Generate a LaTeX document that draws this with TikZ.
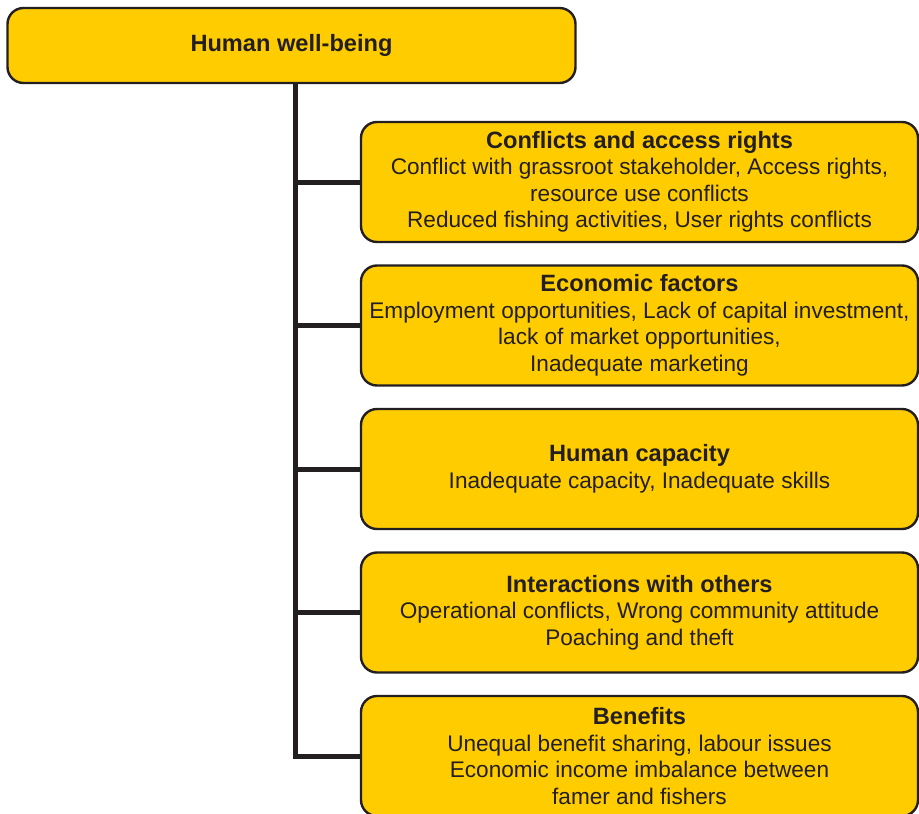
\documentclass[tikz,border=0pt]{standalone}
\usepackage{fontspec}
\setmainfont{Liberation Sans}
\usepackage{xcolor}
\usetikzlibrary{calc,positioning}
\definecolor{boxfill}{HTML}{FFCC00}
\definecolor{ink}{HTML}{231F20}
\newcommand{\boxhead}[1]{{\fontsize{23.6}{26.5}\selectfont\bfseries #1}}
\tikzset{
  every picture/.style={line cap=round, line join=round},
  topbox/.style={draw=ink, fill=boxfill, line width=2.4pt, rounded corners=16pt,
    minimum width=568pt, minimum height=75pt, text=ink,
    font=\fontsize{23.6}{26}\selectfont\bfseries},
  factor/.style={draw=ink, fill=boxfill, line width=2.4pt, rounded corners=16pt,
    minimum width=557pt, minimum height=120pt, text=ink, align=center,
    inner sep=2pt, font=\fontsize{22.6}{26.5}\selectfont},
  link/.style={draw=ink, line width=5pt, line cap=butt, line join=miter}
}
\begin{document}
\begin{tikzpicture}[x=1pt, y=-1pt]
  \useasboundingbox (0,0) rectangle (919,814);

  % top box
  \node[topbox] (hwb) at (291.5,45.5) {Human well-being};

  % factor boxes
  \node[factor] (conf) at (639.5,182) {\boxhead{Conflicts and access rights}\\
    Conflict with grassroot stakeholder, Access rights,\\
    resource use conflicts\\
    Reduced fishing activities, User rights conflicts};
  \node[factor] (econ) at (639.5,325.5) {\boxhead{Economic factors}\\
    Employment opportunities, Lack of capital investment,\\
    lack of market opportunities,\\
    Inadequate marketing};
  \node[factor] (capa) at (639.5,469) {\boxhead{Human capacity}\\
    Inadequate capacity, Inadequate skills};
  \node[factor] (inter) at (639.5,612.5) {\boxhead{Interactions with others}\\
    Operational conflicts, Wrong community attitude\\
    Poaching and theft};
  \node[factor] (ben) at (639.5,756) {\boxhead{Benefits}\\
    Unequal benefit sharing, labour issues\\
    Economic income imbalance between\\
    famer and fishers};

  % tree connectors
  \coordinate (trunk) at (295,0);
  \draw[link] (hwb.south -| trunk) |- (ben.west);
  \foreach \b in {conf,econ,capa,inter}
    \draw[link] (\b.west -| trunk) -- (\b.west);
\end{tikzpicture}
\end{document}
